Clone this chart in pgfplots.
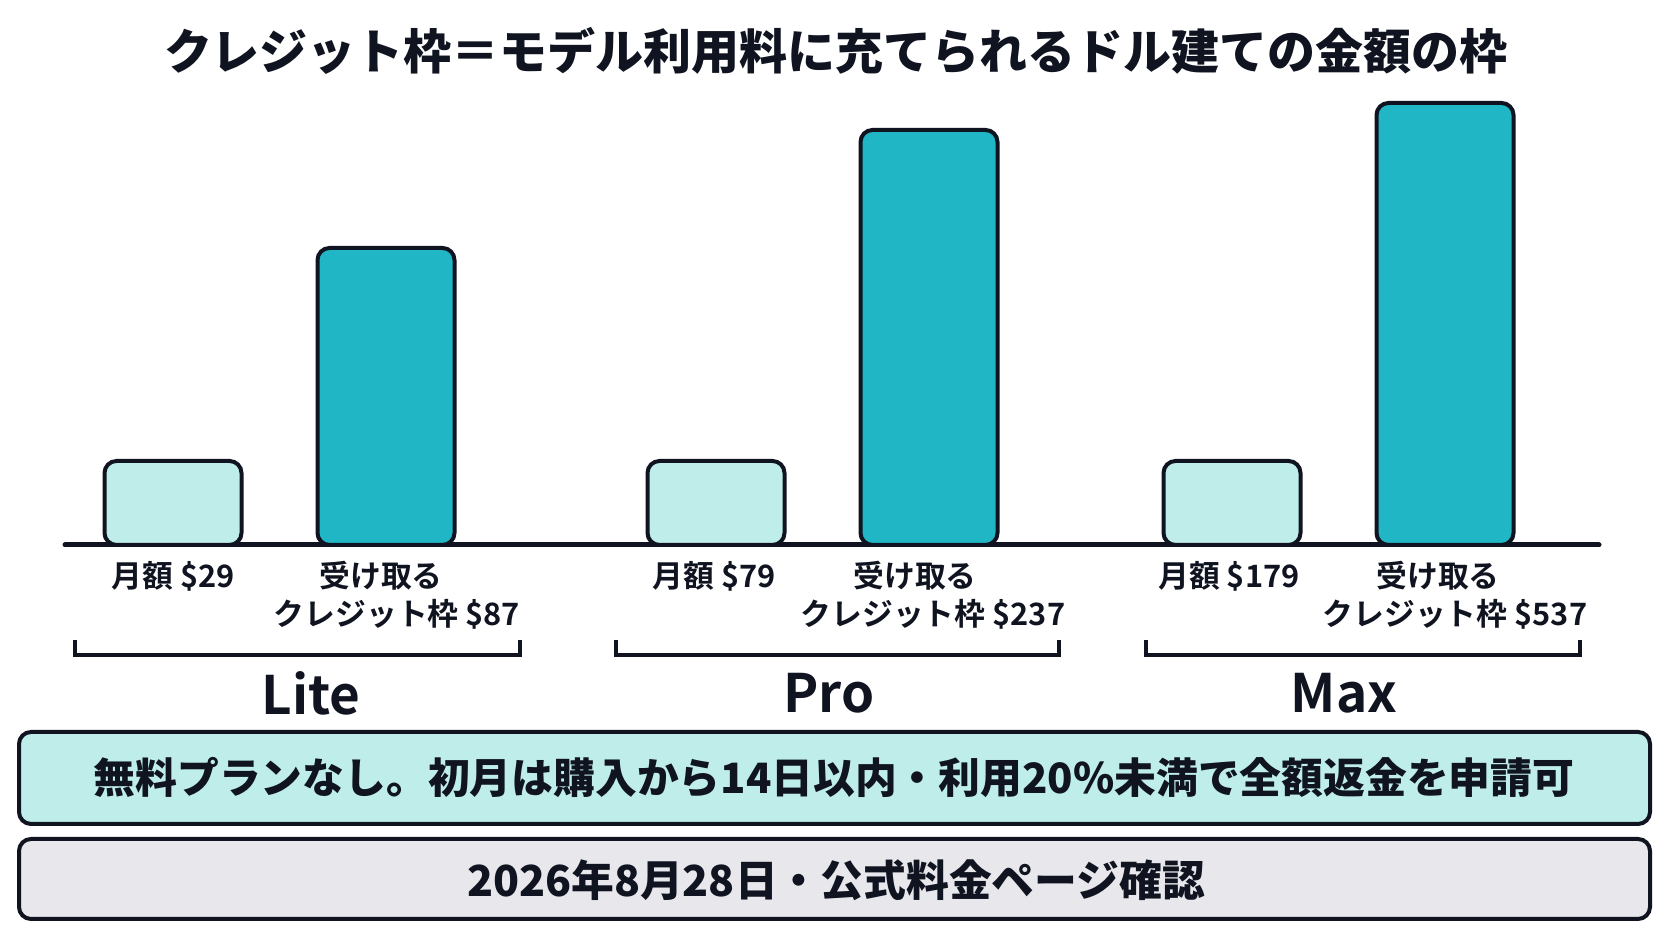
\documentclass[border=0pt]{standalone}
\usepackage{fontspec}
\setmainfont{Noto Sans CJK JP}[BoldFont={Noto Sans CJK JP Bold}]
\newfontfamily\heavy{Noto Sans CJK JP Black}
\usepackage{pgfplots}
\pgfplotsset{compat=1.18}

\definecolor{ink}{RGB}{16,20,32}
\definecolor{creditc}{RGB}{33,182,198}
\definecolor{paleteal}{RGB}{191,238,234}
\definecolor{notegray}{RGB}{232,232,236}

% one axis unit = one pixel of the 1672x941 reference (0.25pt)
\begin{document}
\begin{tikzpicture}
\path[use as bounding box, fill=white] (0,0) rectangle (418pt,235.25pt);
\begin{axis}[
  at={(0,0)}, anchor=south west,
  scale only axis, width=418pt, height=235.25pt,
  xmin=0, xmax=1672, ymin=-396, ymax=545,
  hide axis, clip=false,
  ybar, bar shift=0pt,
]
  % baseline
  \draw[ink, line width=1.25pt, line cap=round] (axis cs:65,0) -- (axis cs:1599,0);

  % monthly price (drawn height as in the picture)
  \addplot[ybar, bar width=137, fill=paleteal, draw=ink, line width=1pt, rounded corners=3pt]
    coordinates {(173,84) (716,84) (1232,84)};
  % credit received
  \addplot[ybar, bar width=137, fill=creditc, draw=ink, line width=1pt, rounded corners=3pt]
    coordinates {(386,297) (929,415) (1445,442)};

  % title
  \node[ink, font=\fontsize{12}{14}\selectfont\heavy] at (axis cs:836,494)
    {クレジット枠＝モデル利用料に充てられるドル建ての金額の枠};

  % bar labels
  \begin{scope}[every node/.style={ink, font=\fontsize{7.7}{9.5}\selectfont\bfseries}]
    \node at (axis cs:173,-31) {月額 \$29};
    \node at (axis cs:381,-31) {受け取る};
    \node at (axis cs:397,-69) {クレジット枠 \$87};
    \node at (axis cs:714,-31) {月額 \$79};
    \node at (axis cs:915,-31) {受け取る};
    \node at (axis cs:933,-69) {クレジット枠 \$237};
    \node at (axis cs:1229,-31) {月額 \$179};
    \node at (axis cs:1438,-31) {受け取る};
    \node at (axis cs:1455,-69) {クレジット枠 \$537};
  \end{scope}

  % group brackets
  \begin{scope}[ink, line width=1pt]
    \draw (axis cs:75,-95) -- (axis cs:75,-110) -- (axis cs:520,-110) -- (axis cs:520,-95);
    \draw (axis cs:616,-95) -- (axis cs:616,-110) -- (axis cs:1059,-110) -- (axis cs:1059,-95);
    \draw (axis cs:1146,-95) -- (axis cs:1146,-110) -- (axis cs:1580,-110) -- (axis cs:1580,-95);
  \end{scope}
  \begin{scope}[every node/.style={ink, font=\fontsize{13.25}{15}\selectfont\bfseries}]
    \node at (axis cs:311,-148) {Lite};
    \node at (axis cs:829,-148) {Pro};
    \node at (axis cs:1344,-148) {Max};
  \end{scope}

  % notes
  \draw[fill=paleteal, draw=ink, line width=1pt, rounded corners=3pt]
    (axis cs:19,-187) rectangle (axis cs:1650,-279);
  \node[ink, font=\fontsize{10.45}{13}\selectfont\heavy] at (axis cs:834,-233)
    {無料プランなし。初月は購入から14日以内・利用20\%未満で全額返金を申請可};
  \draw[fill=notegray, draw=ink, line width=1pt, rounded corners=3pt]
    (axis cs:19,-294) rectangle (axis cs:1650,-374);
  \node[ink, font=\fontsize{10.7}{13}\selectfont\heavy] at (axis cs:836,-335)
    {2026年8月28日・公式料金ページ確認};
\end{axis}
\end{tikzpicture}
\end{document}
